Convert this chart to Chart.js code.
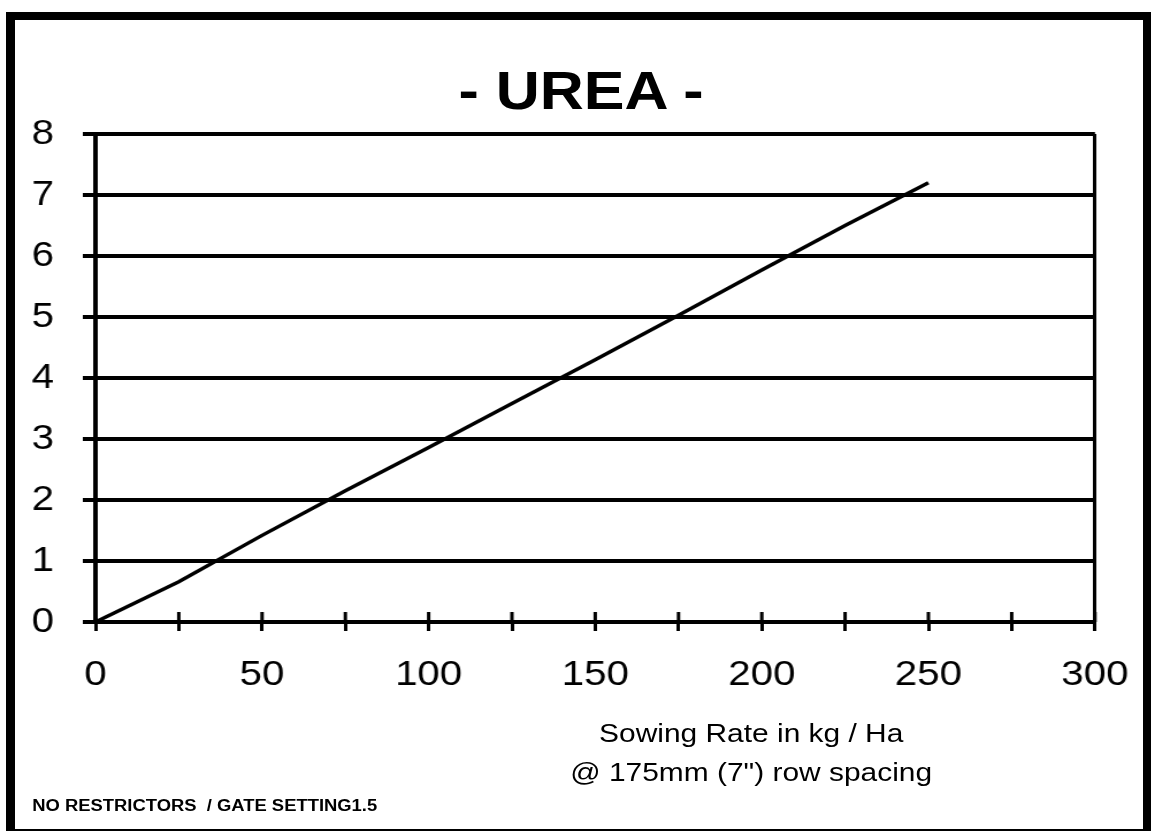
<!DOCTYPE html>
<html>
<head>
<meta charset="utf-8">
<title>- UREA -</title>
<script src="https://cdn.jsdelivr.net/npm/chart.js@4"></script>
<style>
  html, body { margin: 0; padding: 0; background: #fff; }
  body { width: 1155px; height: 832px; position: relative; overflow: hidden; }
  /* chart is drawn narrow then widened, like the old sheet */
  #stage {
    position: absolute; left: 0; top: 0;
    width: 1004px; height: 832px;
    transform: scaleX(1.1504); transform-origin: 0 0;
    font-family: 'Liberation Sans', Arial, sans-serif; color: #000;
  }
  #stage canvas { position: absolute; left: 0; top: 0; }
  #frame {
    position: absolute; left: 6px; top: 12px; width: 1145px; height: 819px;
    box-sizing: border-box; border: solid #000;
    border-width: 8px 8px 2px 9px;
  }
  .title {
    position: absolute; left: 305px; top: 59px; width: 400px;
    text-align: center; font-size: 53px; line-height: 64px; font-weight: bold;
  }
  .axis-title {
    position: absolute; left: 453px; top: 714px; width: 400px;
    text-align: center; font-size: 26px; line-height: 39px;
  }
  .note {
    position: absolute; left: 28px; top: 798px;
    font-size: 16px; line-height: 16px; font-weight: bold; white-space: pre;
  }
</style>
</head>
<body>
<div id="frame"></div>
<div id="stage">
  <canvas id="chart" width="1004" height="832"></canvas>
  <div class="title">- UREA -</div>
  <div class="axis-title">Sowing Rate in kg / Ha<br>@ 175mm (7") row spacing</div>
  <div class="note">NO RESTRICTORS  / GATE SETTING1.5</div>
</div>
<script>
// sowing rate (kg/Ha) against the reading on the left scale
const sowingRates = [0, 25, 50, 75, 100, 125, 150, 175, 200, 225, 250];
const ureaValues = [0, 0.66, 1.42, 2.15, 2.86, 3.58, 4.3, 5.03, 5.77, 6.5, 7.2];

const xLabels = [0, 50, 100, 150, 200, 250, 300];
const yLabels = [0, 1, 2, 3, 4, 5, 6, 7, 8];

Chart.defaults.font.family = "'Liberation Sans', Arial, sans-serif";
Chart.defaults.color = '#000';

// short marks above the x axis so each tick crosses the line
const crossTicks = {
    id: 'crossTicks',
    afterDraw(chart) {
        const xs = chart.scales.x;
        const base = chart.scales.y.getPixelForValue(0);
        const ctx = chart.ctx;
        ctx.save();
        ctx.strokeStyle = '#000';
        ctx.lineWidth = 3;
        xs.ticks.forEach(t => {
            const px = xs.getPixelForValue(t.value);
            ctx.beginPath();
            ctx.moveTo(px, base - 10);
            ctx.lineTo(px, base);
            ctx.stroke();
        });
        ctx.restore();
    }
};

new Chart(document.getElementById('chart'), {
    type: 'line',
    data: {
        datasets: [{
            data: sowingRates.map((r, i) => ({ x: r, y: ureaValues[i] })),
            borderColor: '#000',
            borderWidth: 3.5,
            pointRadius: 0,
            tension: 0,
            fill: false
        }]
    },
    options: {
        responsive: false,
        animation: false,
        layout: { padding: { left: 0, right: 44, top: 134, bottom: 0 } },
        plugins: {
            legend: { display: false },
            tooltip: { enabled: false },
            title: { display: false }
        },
        scales: {
            x: {
                type: 'linear',
                min: 0,
                max: 300,
                afterFit(s) { s.height = 210; },
                border: { display: true, color: '#000', width: 3 },
                grid: {
                    color: c => (c.tick && c.tick.value === 300 ? '#000' : 'rgba(0,0,0,0)'),
                    lineWidth: 3,
                    tickColor: '#000',
                    tickLength: 9
                },
                ticks: {
                    stepSize: 25,
                    autoSkip: false,
                    maxRotation: 0,
                    padding: 23,
                    font: { size: 35 },
                    callback: v => (xLabels.includes(v) ? String(v) : '')
                }
            },
            y: {
                min: 0,
                max: 8,
                afterFit(s) { s.width = 83; },
                afterBuildTicks(s) { s.ticks = yLabels.map(v => ({ value: v })); },
                border: { display: true, color: '#000', width: 4 },
                grid: {
                    color: '#000',
                    lineWidth: 4,
                    tickColor: '#000',
                    tickLength: 11
                },
                ticks: {
                    autoSkip: false,
                    padding: 25,
                    font: { size: 35 }
                }
            }
        }
    },
    plugins: [crossTicks]
});
</script>
</body>
</html>
